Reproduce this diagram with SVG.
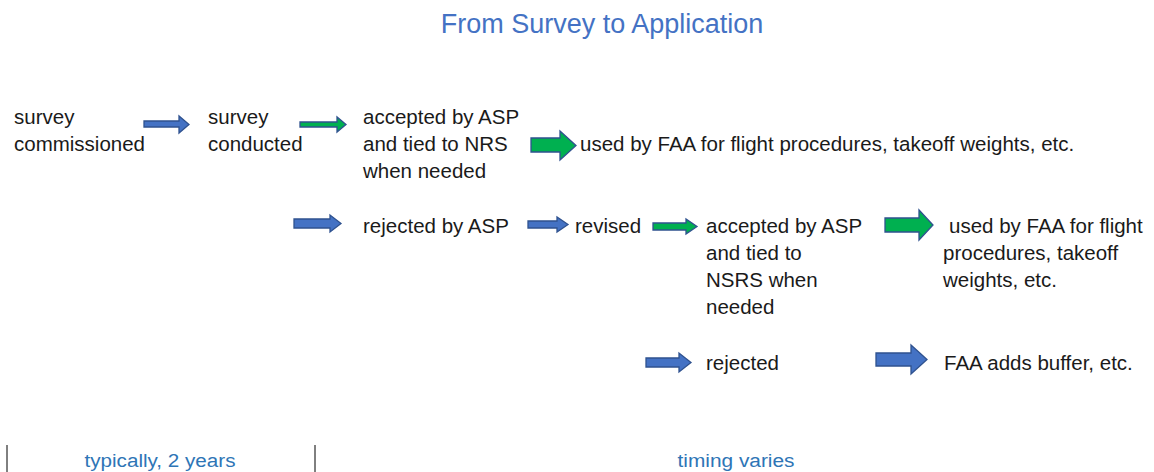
<svg xmlns="http://www.w3.org/2000/svg" width="1154" height="472" viewBox="0 0 1154 472">
<style>
.t{font-family:"Liberation Sans",Arial,sans-serif;font-size:20.5px;fill:#1a1a1a}
.title{font-family:"Liberation Sans",Arial,sans-serif;font-size:27px;fill:#4472C4}
.foot{font-family:"Liberation Sans",Arial,sans-serif;font-size:18px;fill:#2E75B6}
.blue{fill:#4472C4;stroke:#2F528F;stroke-width:1.3}
.green{fill:#00B050;stroke:#2F528F;stroke-width:1.3}
.rule{stroke:#000;stroke-width:1}
</style>
<rect width="1154" height="472" fill="#fff"/>
<text class="title" x="602" y="33" text-anchor="middle">From Survey to Application</text>

<g id="connectors">
<path class="blue" d="M144,121H179V116L189,124.5L179,133V127H144Z"/>
<path class="green" d="M300,122H337V117L346,124.5L337,132V127H300Z"/>
<path class="green" d="M531,138H560V131L576,145.5L560,160V152H531Z"/>
<path class="blue" d="M294,219H330V215L341,223.5L330,232V228H294Z"/>
<path class="blue" d="M528,221H557V217L568,224.5L557,232V228H528Z"/>
<path class="green" d="M653,223H686V219L697,226.5L686,234V230H653Z"/>
<path class="green" d="M885,218H919V210L933,225L919,240V232H885Z"/>
<path class="blue" d="M646,358H679V353L691,362.5L679,372V367H646Z"/>
<path class="blue" d="M876,353H911V345L927,359.5L911,374V366H876Z"/>
</g>

<g id="n-commissioned"><text class="t" x="14" y="124">survey</text><text class="t" x="14" y="151">commissioned</text></g>
<g id="n-conducted"><text class="t" x="208" y="124">survey</text><text class="t" x="208" y="151">conducted</text></g>
<g id="n-accepted1"><text class="t" x="363" y="124">accepted by ASP</text><text class="t" x="363" y="151">and tied to NRS</text><text class="t" x="363" y="178">when needed</text></g>
<g id="n-used1"><text class="t" x="580" y="151">used by FAA for flight procedures, takeoff weights, etc.</text></g>
<g id="n-rejected1"><text class="t" x="363" y="233">rejected by ASP</text></g>
<g id="n-revised"><text class="t" x="575" y="233">revised</text></g>
<g id="n-accepted2"><text class="t" x="706" y="233">accepted by ASP</text><text class="t" x="706" y="260">and tied to</text><text class="t" x="706" y="287">NSRS when</text><text class="t" x="706" y="314">needed</text></g>
<g id="n-used2"><text class="t" x="949" y="233">used by FAA for flight</text><text class="t" x="943" y="260">procedures, takeoff</text><text class="t" x="943" y="287">weights, etc.</text></g>
<g id="n-rejected2"><text class="t" x="706" y="370">rejected</text></g>
<g id="n-buffer"><text class="t" x="944" y="370">FAA adds buffer, etc.</text></g>

<g id="timeline">
<line class="rule" x1="7" y1="445" x2="7" y2="472"/>
<line class="rule" x1="315" y1="445" x2="315" y2="472"/>
<text class="foot" x="160" y="467" text-anchor="middle" textLength="151" lengthAdjust="spacingAndGlyphs">typically, 2 years</text>
<text class="foot" x="736" y="467" text-anchor="middle" textLength="117" lengthAdjust="spacingAndGlyphs">timing varies</text>
</g>
</svg>
